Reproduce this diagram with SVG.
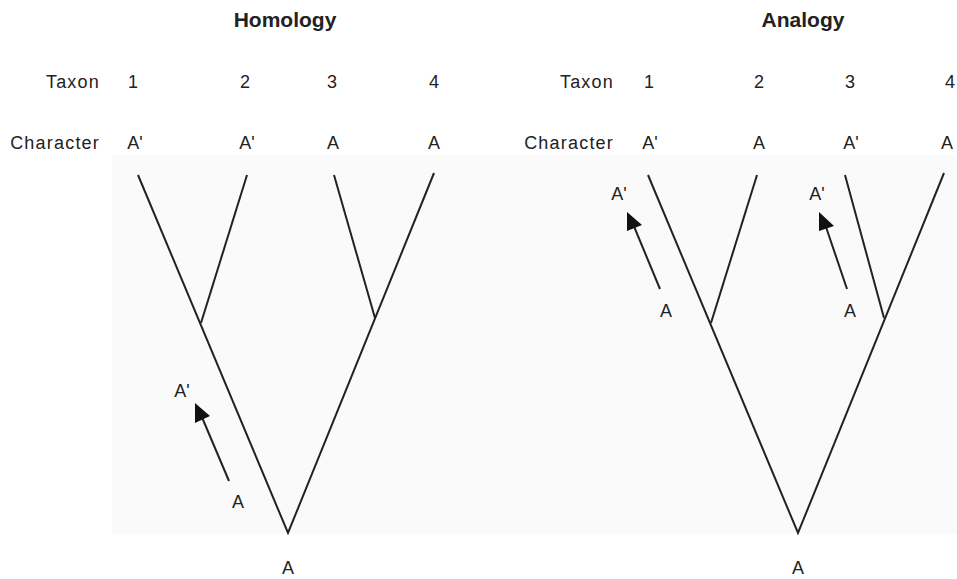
<svg xmlns="http://www.w3.org/2000/svg" width="957" height="579" viewBox="0 0 957 579">
<style>
.t{font-family:"Liberation Sans",Arial,sans-serif;font-size:18px;fill:#222;text-anchor:middle}
.lbl{letter-spacing:1.2px;text-anchor:end}
.title{font-family:"Liberation Sans",Arial,sans-serif;font-size:21px;font-weight:bold;fill:#222;text-anchor:middle}
.br{stroke:#222;stroke-width:2;fill:none;stroke-linecap:butt;stroke-linejoin:miter}
.ah{fill:#111}
</style>
<rect width="957" height="579" fill="#fff"/>
<rect x="112" y="155" width="845" height="379" fill="#fafafa"/>
<g id="homology-header">
<text class="title" x="285" y="27">Homology</text>
<text class="t lbl" x="100" y="88">Taxon</text>
<text class="t lbl" x="100" y="149">Character</text>
<text class="t" x="133" y="88">1</text>
<text class="t" x="245" y="88">2</text>
<text class="t" x="332" y="88">3</text>
<text class="t" x="434" y="88">4</text>
<text class="t" x="135" y="149">A'</text>
<text class="t" x="247" y="149">A'</text>
<text class="t" x="333" y="149">A</text>
<text class="t" x="434" y="149">A</text>
</g>
<g id="analogy-header">
<text class="title" x="803" y="27">Analogy</text>
<text class="t lbl" x="614" y="88">Taxon</text>
<text class="t lbl" x="614" y="149">Character</text>
<text class="t" x="649" y="88">1</text>
<text class="t" x="759" y="88">2</text>
<text class="t" x="850" y="88">3</text>
<text class="t" x="950" y="88">4</text>
<text class="t" x="650" y="149">A'</text>
<text class="t" x="759" y="149">A</text>
<text class="t" x="851" y="149">A'</text>
<text class="t" x="947" y="149">A</text>
</g>
<g id="connectors">
<path class="br" d="M138,175 L288,533 L434,173"/>
<path class="br" d="M247,175 L201,323"/>
<path class="br" d="M334,175 L375,318"/>
<path class="br" d="M648,175 L798,533 L944,173"/>
<path class="br" d="M757,175 L711,323"/>
<path class="br" d="M845,175 L884,318"/>
<path class="br" d="M229,481 L201,415"/>
<polygon class="ah" points="195,403 195,423 210,416"/>
<path class="br" d="M660,289 L633,224"/>
<polygon class="ah" points="627,212 627,231 642,225"/>
<path class="br" d="M847,289 L825,224"/>
<polygon class="ah" points="819,212 819,231 834,226"/>
</g>
<g id="homology-labels">
<text class="t" x="182" y="397">A'</text>
<text class="t" x="238" y="508">A</text>
<text class="t" x="288" y="574">A</text>
</g>
<g id="analogy-labels">
<text class="t" x="619" y="200">A'</text>
<text class="t" x="666" y="317">A</text>
<text class="t" x="817" y="200">A'</text>
<text class="t" x="850" y="317">A</text>
<text class="t" x="798" y="574">A</text>
</g>
</svg>
